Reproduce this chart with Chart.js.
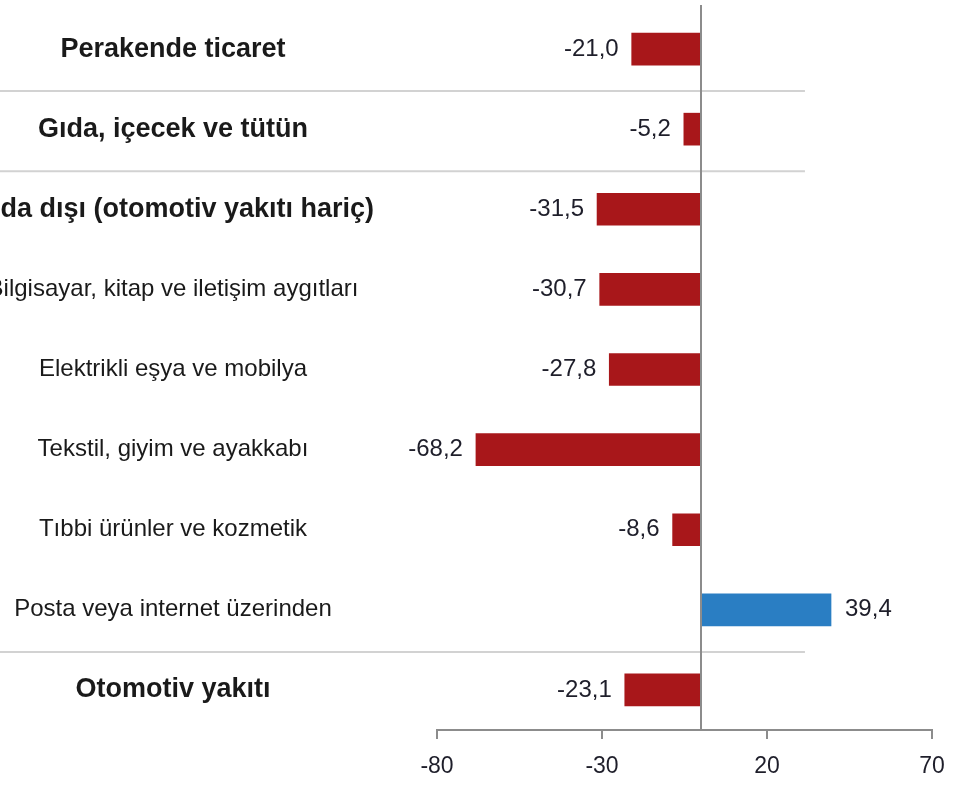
<!DOCTYPE html>
<html>
<head>
<meta charset="utf-8">
<script src="https://cdn.jsdelivr.net/npm/chart.js@4.4.1/dist/chart.umd.min.js"></script>
<style>
  html, body { margin: 0; padding: 0; background: #ffffff; overflow: hidden; }
  canvas { display: block; }
</style>
</head>
<body>
<canvas id="c" width="962" height="787"></canvas>
<script>
// ---- data ----
const categories = [
  "Perakende ticaret",
  "Gıda, içecek ve tütün",
  "Gıda dışı (otomotiv yakıtı hariç)",
  "Bilgisayar, kitap ve iletişim aygıtları",
  "Elektrikli eşya ve mobilya",
  "Tekstil, giyim ve ayakkabı",
  "Tıbbi ürünler ve kozmetik",
  "Posta veya internet üzerinden",
  "Otomotiv yakıtı"
];
const values = [-21.0, -5.2, -31.5, -30.7, -27.8, -68.2, -8.6, 39.4, -23.1];
const boldRows = [0, 1, 2, 8];
const separatorsAfter = [0, 1, 7];
const xTickMin = -80;
const xTickMax = 70;
const xTickStep = 50;

// ---- styles ----
const FAMILY = '"Liberation Sans", Arial, sans-serif';
const RED = '#A8171A';
const BLUE = '#2A7EC3';
const AXIS_GRAY = '#8C8C8C';
const SEP_GRAY = '#D2D2D2';
const PLOT_LEFT = 437;
const LABEL_CENTER = 173;

function labelFont(i) {
  const bold = boldRows.includes(i);
  return { family: FAMILY, size: bold ? 27 : 24, weight: bold ? 'bold' : 'normal' };
}

// measure widest category label to centre labels in their column
const mctx = document.createElement('canvas').getContext('2d');
let widest = 0;
categories.forEach((t, i) => {
  const f = labelFont(i);
  mctx.font = `${f.weight} ${f.size}px ${FAMILY}`;
  widest = Math.max(widest, mctx.measureText(t).width);
});
const yPad = PLOT_LEFT - LABEL_CENTER - widest / 2;

const fmt = v => v.toFixed(1).replace('.', ',');

const decorations = {
  id: 'decorations',
  beforeDatasetsDraw(chart) {
    const { ctx, scales: { x, y } } = chart;
    ctx.save();
    ctx.strokeStyle = SEP_GRAY;
    ctx.lineWidth = 2;
    separatorsAfter.forEach(i => {
      const yy = (y.getPixelForValue(i) + y.getPixelForValue(i + 1)) / 2 + 2;
      ctx.beginPath();
      ctx.moveTo(0, yy);
      ctx.lineTo(x.getPixelForValue(31.5), yy);
      ctx.stroke();
    });
    ctx.restore();
  },
  afterDatasetsDraw(chart) {
    const { ctx, chartArea, scales: { x } } = chart;
    ctx.save();
    // zero line
    const zx = Math.round(x.getPixelForValue(0));
    ctx.strokeStyle = AXIS_GRAY;
    ctx.lineWidth = 2;
    ctx.beginPath();
    ctx.moveTo(zx, chartArea.top - 4);
    ctx.lineTo(zx, chartArea.bottom);
    ctx.stroke();
    // value labels
    const meta = chart.getDatasetMeta(0);
    ctx.font = `24px ${FAMILY}`;
    ctx.fillStyle = '#1e1e2a';
    ctx.textBaseline = 'middle';
    meta.data.forEach((bar, i) => {
      const v = values[i];
      if (v < 0) {
        ctx.textAlign = 'right';
        ctx.fillText(fmt(v), bar.x - 13, bar.y);
      } else {
        ctx.textAlign = 'left';
        ctx.fillText(fmt(v), bar.x + 14, bar.y);
      }
    });
    ctx.restore();
  }
};

new Chart(document.getElementById('c'), {
  type: 'bar',
  data: {
    labels: categories,
    datasets: [{
      data: values,
      backgroundColor: c => (c.raw >= 0 ? BLUE : RED),
      borderWidth: 0,
      barThickness: 32
    }]
  },
  options: {
    indexAxis: 'y',
    responsive: false,
    animation: false,
    layout: { padding: { left: 0, right: 30, top: 9, bottom: 0 } },
    plugins: { legend: { display: false }, tooltip: { enabled: false } },
    scales: {
      x: {
        min: xTickMin,
        max: xTickMax,
        ticks: {
          stepSize: xTickStep,
          font: { family: FAMILY, size: 23 },
          color: '#1e1e2a',
          padding: 14,
          maxRotation: 0
        },
        grid: { drawOnChartArea: false, drawTicks: true, tickLength: 9, color: AXIS_GRAY, lineWidth: 2 },
        border: { color: AXIS_GRAY, width: 2 },
        afterFit: s => { s.height = 57; s.paddingLeft = 0; s.paddingRight = 0; }
      },
      y: {
        ticks: {
          font: c => labelFont(c.index),
          color: '#1a1a1a',
          crossAlign: 'center',
          padding: yPad,
          autoSkip: false
        },
        grid: { display: false, drawTicks: false },
        border: { display: false },
        afterFit: s => { s.width = PLOT_LEFT; s.paddingTop = 0; s.paddingBottom = 0; }
      }
    }
  },
  plugins: [decorations]
});
</script>
</body>
</html>
